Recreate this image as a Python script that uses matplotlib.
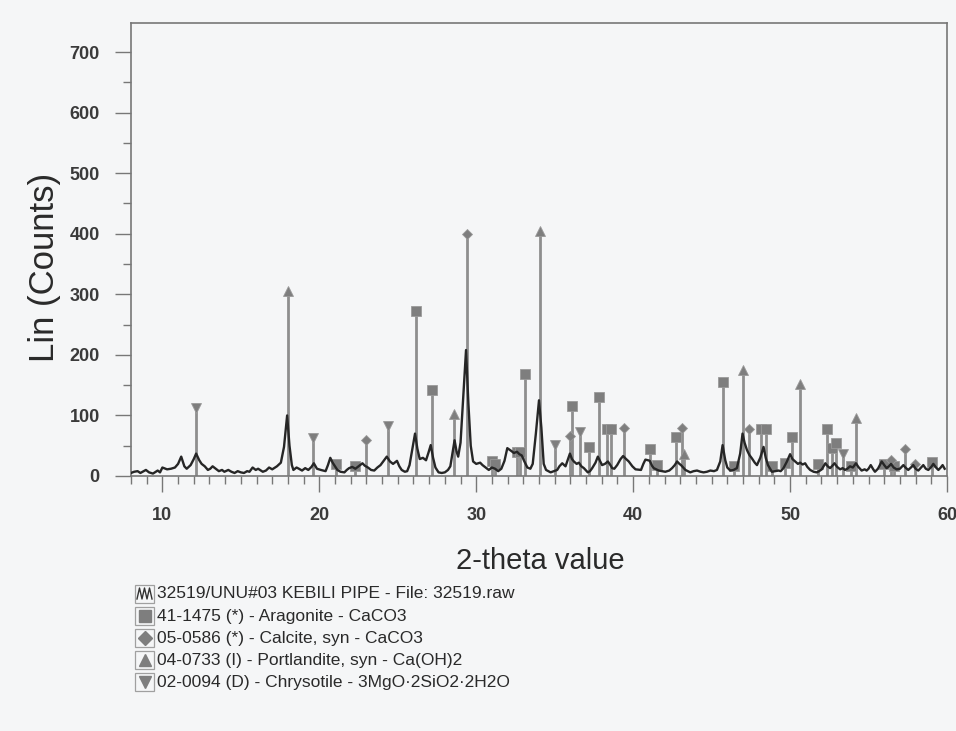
import matplotlib
matplotlib.use("Agg")
import matplotlib.pyplot as plt
from matplotlib.patches import Rectangle
from matplotlib.lines import Line2D
from matplotlib.ticker import MultipleLocator

plt.rcParams['font.family'] = ['Liberation Sans', 'DejaVu Sans']

two_theta = [8.0, 8.2, 8.42, 8.6, 8.95, 9.15, 9.4, 9.7, 9.85, 10.0, 10.3, 10.55, 10.8, 11.0, 11.2, 11.4,
             11.55, 11.8, 12.0, 12.15, 12.35, 12.5, 12.7, 12.9, 13.05, 13.2, 13.4, 13.6, 13.8, 13.95, 14.2,
             14.4, 14.6, 14.8, 15.0, 15.2, 15.4, 15.55, 15.75, 15.95, 16.1, 16.4, 16.6, 16.8, 17.0, 17.3,
             17.55, 17.75, 17.95, 18.1, 18.25, 18.35, 18.55, 18.7, 18.9, 19.1, 19.3, 19.5, 19.65, 19.85,
             20.1, 20.4, 20.55, 20.7, 20.85, 21.0, 21.15, 21.35, 21.6, 21.75, 21.9, 22.1, 22.3, 22.5,
             22.75, 22.9, 23.1, 23.3, 23.5, 23.7, 23.9, 24.1, 24.3, 24.5, 24.7, 24.95, 25.1, 25.25, 25.45,
             25.6, 25.75, 25.9, 26.1, 26.25, 26.4, 26.6, 26.8, 26.95, 27.1, 27.25, 27.4, 27.6, 27.8, 28.0,
             28.2, 28.35, 28.5, 28.62, 28.75, 28.85, 29.0, 29.15, 29.35, 29.5, 29.65, 29.8, 30.0, 30.25,
             30.4, 30.6, 30.8, 31.0, 31.2, 31.4, 31.6, 31.8, 31.98, 32.2, 32.4, 32.6, 32.75, 32.9, 33.05,
             33.26, 33.45, 33.6, 33.8, 34.0, 34.15, 34.3, 34.45, 34.74, 34.95, 35.16, 35.3, 35.48, 35.69,
             35.85, 35.97, 36.1, 36.22, 36.4, 36.54, 36.7, 36.86, 37.11, 37.25, 37.39, 37.6, 37.75, 37.9,
             38.02, 38.2, 38.39, 38.55, 38.66, 38.8, 38.98, 39.2, 39.36, 39.55, 39.72, 39.95, 40.15, 40.5,
             40.65, 40.78, 40.95, 41.06, 41.2, 41.31, 41.63, 42.05, 42.3, 42.48, 42.65, 42.8, 42.95, 43.05,
             43.33, 43.64, 43.85, 44.07, 44.3, 44.49, 44.7, 44.92, 45.15, 45.34, 45.55, 45.7, 45.87, 46.0,
             46.19, 46.4, 46.61, 46.82, 46.97, 47.1, 47.25, 47.4, 47.57, 47.75, 47.89, 48.1, 48.31, 48.45,
             48.59, 48.84, 49.05, 49.26, 49.4, 49.58, 49.8, 50.0, 50.15, 50.32, 50.5, 50.64, 50.8, 50.96,
             51.1, 51.28, 51.5, 51.7, 51.85, 52.02, 52.25, 52.4, 52.55, 52.7, 52.83, 53.0, 53.19, 53.35,
             53.5, 53.65, 53.82, 54.0, 54.2, 54.35, 54.56, 54.75, 54.88, 55.0, 55.14, 55.3, 55.41, 55.6,
             55.84, 56.0, 56.15, 56.3, 56.43, 56.6, 56.79, 57.0, 57.22, 57.35, 57.53, 57.7, 57.85, 58.0,
             58.17, 58.35, 58.49, 58.65, 58.81, 59.0, 59.13, 59.3, 59.45, 59.6, 59.72, 59.85]
counts = [5, 7, 8, 5, 10, 6, 4, 9, 6, 14, 11, 12, 14, 20, 32, 16,
          12, 18, 28, 37, 26, 20, 16, 10, 12, 16, 12, 8, 10, 7, 10,
          7, 5, 8, 6, 5, 8, 7, 14, 10, 12, 7, 9, 14, 11, 16,
          22, 48, 100, 50, 18, 10, 14, 12, 9, 13, 10, 15, 21, 12,
          10, 8, 18, 30, 22, 16, 10, 7, 6, 10, 13, 15, 12, 16,
          21, 17, 14, 10, 9, 14, 18, 25, 32, 24, 20, 25, 16, 10, 7,
          8, 18, 40, 70, 45, 28, 30, 26, 38, 51, 30, 14, 6, 5, 6,
          10, 16, 40, 59, 40, 32, 55, 120, 208, 120, 50, 24, 20, 22,
          18, 14, 10, 14, 12, 8, 12, 25, 46, 42, 38, 40, 36, 34, 25,
          14, 12, 20, 70, 125, 80, 20, 10, 6, 8, 10, 16, 21, 16,
          28, 37, 28, 24, 20, 22, 16, 13, 6, 8, 13, 22, 32, 24,
          18, 20, 24, 18, 13, 12, 18, 28, 33, 28, 24, 16, 11, 10,
          20, 27, 26, 25, 17, 13, 9, 7, 9, 13, 18, 24, 20, 18,
          10, 6, 8, 9, 7, 6, 7, 9, 8, 10, 24, 51, 26, 14,
          9, 10, 13, 37, 70, 55, 43, 35, 29, 22, 18, 30, 48, 30,
          18, 7, 8, 9, 8, 13, 24, 36, 28, 24, 20, 22, 19, 21,
          15, 10, 7, 6, 8, 11, 21, 16, 13, 17, 21, 15, 11, 13,
          10, 12, 16, 14, 21, 15, 9, 11, 9, 12, 18, 11, 7, 12,
          24, 18, 13, 16, 20, 14, 11, 12, 18, 14, 10, 14, 18, 12,
          9, 14, 18, 12, 10, 15, 20, 14, 10, 14, 18, 12]

# reference patterns (stick positions and heights)
aragonite_pos = [21.05, 22.3, 26.15, 27.2, 31.0, 31.2, 32.6, 32.8, 33.1, 36.1, 37.2, 37.8, 38.35,
                 38.6, 41.1, 41.5, 42.75, 45.75, 46.4, 48.15, 48.45, 48.85, 49.7, 50.1, 51.8, 52.35,
                 52.7, 52.95, 53.9, 56.0, 56.6, 59.05]
aragonite_h = [20, 16, 272, 142, 25, 20, 40, 40, 168, 116, 48, 130, 78,
               78, 45, 18, 64, 155, 16, 78, 78, 17, 22, 64, 20, 78,
               46, 55, 17, 20, 17, 23]
calcite_pos = [23.0, 29.4, 35.95, 39.4, 43.1, 47.4, 56.45, 57.3, 57.95]
calcite_h = [60, 400, 66, 80, 80, 77, 27, 44, 20]
portlandite_pos = [18.0, 28.6, 34.05, 43.25, 47.0, 50.65, 54.2]
portlandite_h = [305, 102, 405, 37, 175, 152, 95]
chrysotile_pos = [12.15, 19.6, 24.35, 35.0, 36.6, 53.4]
chrysotile_h = [112, 62, 82, 52, 72, 37]

legend_labels = ["32519/UNU#03 KEBILI PIPE - File: 32519.raw",
                 "41-1475 (*) - Aragonite - CaCO3",
                 "05-0586 (*) - Calcite, syn - CaCO3",
                 "04-0733 (I) - Portlandite, syn - Ca(OH)2",
                 "02-0094 (D) - Chrysotile - 3MgO\u00b72SiO2\u00b72H2O"]

bg = '#f5f6f7'
stick_col = '#8e8e8e'
mark_col = '#7e7e7e'

fig = plt.figure(figsize=(9.56, 7.31), dpi=100, facecolor=bg)
ax = fig.add_axes([131 / 956, 1 - 476 / 731, 816 / 956, 453 / 731], facecolor=bg)

phases = [(aragonite_pos, aragonite_h, 's'),
          (calcite_pos, calcite_h, 'D'),
          (portlandite_pos, portlandite_h, '^'),
          (chrysotile_pos, chrysotile_h, 'v')]
for pos, h, m in phases:
    ax.vlines(pos, 0, h, color=stick_col, lw=2, zorder=2)
    ms = 5.5 if m == 'D' else 7
    ax.plot(pos, h, ls='none', marker=m, ms=ms, color=mark_col, mec='#9a9a9a', mew=0.6, zorder=3)

ax.plot(two_theta, counts, color='#262626', lw=1.7, zorder=4)

ax.set_xlim(8, 60)
ax.set_ylim(0, 748)
ax.xaxis.set_major_locator(MultipleLocator(10))
ax.xaxis.set_minor_locator(MultipleLocator(1))
ax.yaxis.set_major_locator(MultipleLocator(100))
ax.yaxis.set_minor_locator(MultipleLocator(50))
ax.tick_params(which='major', direction='out', length=11.5, width=1, color='#777777',
               labelsize=13, labelcolor='#3a3a3a', pad=11)
ax.tick_params(which='minor', direction='out', length=5.5, width=1, color='#777777')
for lab in ax.get_xticklabels() + ax.get_yticklabels():
    lab.set_fontweight('bold')
for sp in ax.spines.values():
    sp.set_color('#777777')
    sp.set_linewidth(1.2)

fig.text(540 / 956, 1 - 561 / 731, "2-theta value", ha='center', va='center',
         fontsize=21, color='#2a2a2a')
fig.text(45 / 956, 1 - 267 / 731, "Lin (Counts)", ha='center', va='center',
         rotation=90, fontsize=25, color='#2a2a2a')

# legend drawn below the plot
row_y = [594, 616, 638, 660, 682]
icons = [None, 's', 'D', '^', 'v']
for yy, lab, m in zip(row_y, legend_labels, icons):
    fig.add_artist(Rectangle((135 / 956, 1 - (yy + 9) / 731), 19 / 956, 18 / 731,
                             transform=fig.transFigure, fill=False, ec='#a0a0a0', lw=0.9))
    if m is None:
        wx = [137, 139.5, 142, 144.5, 147, 149.5, 152]
        wy = [yy + 5, yy - 6, yy + 5, yy - 6, yy + 5, yy - 6, yy + 5]
        fig.add_artist(Line2D([v / 956 for v in wx], [1 - v / 731 for v in wy],
                              transform=fig.transFigure, color='#333333', lw=1))
    else:
        ms = 7 if m == 'D' else 9
        fig.add_artist(Line2D([144.5 / 956], [1 - yy / 731], marker=m, ms=ms, color=mark_col,
                              ls='none', transform=fig.transFigure))
    fig.text(157 / 956, 1 - yy / 731, lab, ha='left', va='center', fontsize=12.5, color='#2a2a2a')

fig.savefig("out.png", dpi=100, facecolor=bg)
